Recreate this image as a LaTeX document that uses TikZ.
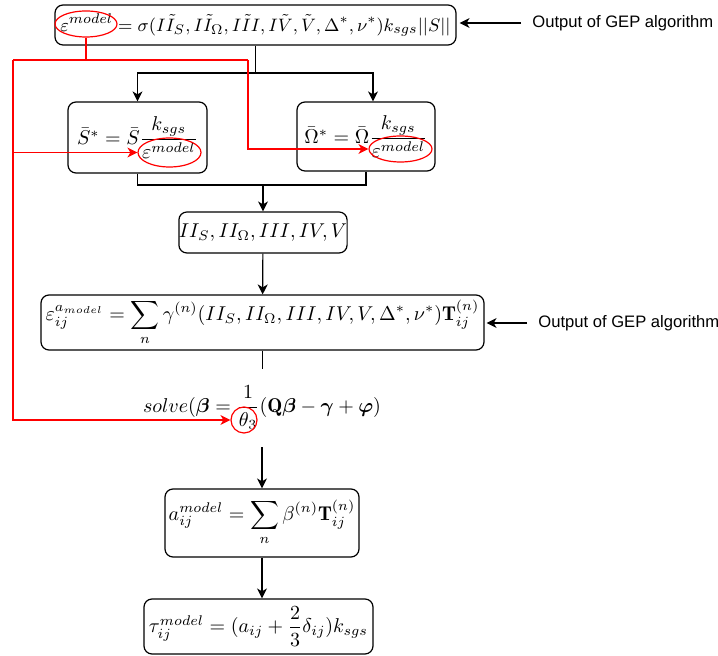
\documentclass[tikz,border=0pt]{standalone}
\usepackage{amsmath}
\usepackage{fontspec}
\newfontfamily\gepfont{Liberation Sans}
\usetikzlibrary{arrows.meta,shapes.geometric}
\definecolor{xRed}{RGB}{255,0,0}

\tikzset{
  box/.style={draw, rounded corners=4pt, line width=0.6pt, inner sep=0pt, align=center},
  link/.style={line width=0.6pt},
  linkarrow/.style={link, -{Stealth[length=5pt,width=5pt,inset=1.5pt]}},
  redlink/.style={xRed, line width=0.6pt},
  redarrow/.style={redlink, -{Stealth[length=5pt,width=5pt,inset=1.5pt]}},
  redring/.style={draw=xRed, ellipse, line width=0.6pt, inner sep=0pt},
  geplabel/.style={font=\gepfont\fontsize{8.3}{10}\selectfont, inner sep=5.5pt}
}

\begin{document}
\begin{tikzpicture}[x=0.5pt,y=-0.5pt]

    % -------------------------------------------------
    % Page frame (pixel units of the reference)
    % -------------------------------------------------
    \useasboundingbox (0,0) rectangle (718,656);
    \fill[white] (0,0) rectangle (718,656);

    % -------------------------------------------------
    % Boxes of the flow, top to bottom
    % -------------------------------------------------
    \node[box, minimum width=200.5pt, minimum height=20pt, font=\fontsize{9.5}{11}\selectfont] (model) at (255.5,25)
        {$\varepsilon^{model} = \sigma(I\tilde{I}_S, I\tilde{I}_\Omega, I\tilde{I}I, I\tilde{V}, \tilde{V}, \Delta^{*}, \nu^{*})k_{sgs}||S||$};

    \node[box, minimum width=69.5pt, minimum height=35.5pt] (strain) at (137.5,137.5)
        {$\bar{S}^{*} = \bar{S}\dfrac{k_{sgs}}{\varepsilon^{model}}$};
    \node[box, minimum width=69pt, minimum height=34.5pt] (rotation) at (366,136.5)
        {$\bar{\Omega}^{*} = \bar{\Omega}\dfrac{k_{sgs}}{\varepsilon^{model}}$};

    \node[box, minimum width=83pt, minimum height=20.5pt] (invariants) at (263,232.5)
        {$II_S, II_\Omega, III, IV, V$};

    \node[box, minimum width=221.5pt, minimum height=27.5pt] (aniso) at (262.5,322.5)
        {$\displaystyle \varepsilon_{ij}^{a_{model}} = \sum_{n} \gamma^{(n)}(II_S, II_\Omega, III, IV, V, \Delta^{*}, \nu^{*})\mathbf{T}_{ij}^{(n)}$};

    % no frame round the solver step
    \node[inner sep=0pt, minimum height=39.5pt] (solver) at (262,407.5)
        {$solve(\boldsymbol{\beta} = \dfrac{1}{\theta_3}(\mathbf{Q}\boldsymbol{\beta} - \boldsymbol{\gamma} + \boldsymbol{\varphi})$};

    \node[box, minimum width=97pt, minimum height=34pt] (coeff) at (262,523)
        {$\displaystyle a_{ij}^{model} = \sum_{n} \beta^{(n)}\mathbf{T}_{ij}^{(n)}$};

    \node[box, minimum width=114.5pt, minimum height=27.5pt] (stress) at (258.5,626.5)
        {$\tau_{ij}^{model} = (a_{ij} + \dfrac{2}{3}\delta_{ij})k_{sgs}$};

    % -------------------------------------------------
    % GEP labels on the right
    % -------------------------------------------------
    \node[geplabel, anchor=west] (gepTop) at (521,23) {Output of GEP algorithm};
    \node[geplabel, anchor=west] (gepMid) at (527,323) {Output of GEP algorithm};

    \draw[linkarrow] (gepTop.west) -- ([xshift=1.5pt]model.east |- gepTop.west);
    \draw[linkarrow] (gepMid.west) -- ([xshift=1pt]aniso.east |- gepMid.west);

    % -------------------------------------------------
    % Black connectors
    % -------------------------------------------------
    \coordinate (split) at (255.5,73);
    \coordinate (merge) at (263,185);

    \draw[link] (model.south) -- (split);
    \draw[linkarrow] (split) -| (strain.north);
    \draw[linkarrow] (split) -| ([xshift=3.5pt]rotation.north);

    \draw[link] (strain.south) |- (merge) -| (rotation.south);
    \draw[linkarrow] (merge) -- (invariants.north);
    \draw[linkarrow] (invariants) -- (aniso);
    \draw[link] (aniso.south) -- ++(0,18);
    \draw[linkarrow] (solver.south) -- (coeff.north);
    \draw[linkarrow] (coeff.south) -- (coeff.south |- stress.north);

    % -------------------------------------------------
    % Red rings round the dissipation terms
    % -------------------------------------------------
    \node[redring, minimum width=31pt, minimum height=13pt] (ringTop) at (86,24) {};
    \node[redring, minimum width=31.5pt, minimum height=14.5pt] (ringS) at (169.5,152.5) {};
    \node[redring, minimum width=31.5pt, minimum height=13pt] (ringO) at (400.5,149) {};
    \node[redring, circle, minimum size=13pt] (ringT) at (244,420) {};

    % -------------------------------------------------
    % Red feedback lines
    % -------------------------------------------------
    \coordinate (redHub) at (86,60);
    \coordinate (redLeft) at (13,60);
    \coordinate (redRight) at (248,60);

    \draw[redlink] (ringTop.south) -- (redHub);
    \draw[redlink] (redLeft) -- (redRight);
    \draw[redarrow] (redLeft) |- (ringT.west);
    \draw[redarrow] (redLeft |- ringS.west) -- (ringS.west);
    \draw[redarrow] (redRight) |- (ringO.west);

\end{tikzpicture}
\end{document}
